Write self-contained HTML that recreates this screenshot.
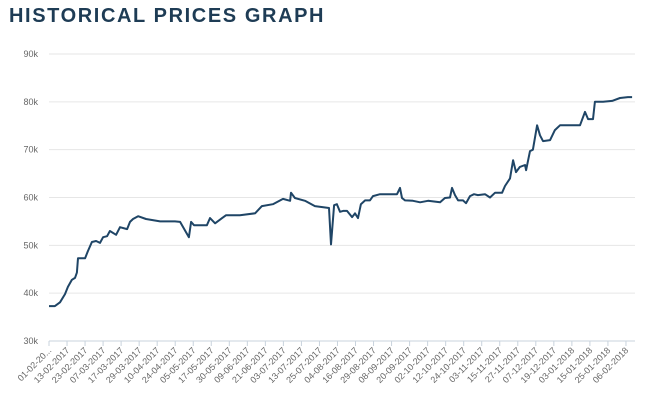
<!DOCTYPE html>
<html><head><meta charset="utf-8"><style>
body{margin:0;background:#fff;width:650px;height:405px;overflow:hidden;font-family:"Liberation Sans",sans-serif}
h1{position:absolute;left:9px;top:5px;margin:0;font-size:20px;font-weight:bold;letter-spacing:1.6px;color:#1e3c55}
svg{position:absolute;left:0;top:0}
</style></head><body>
<h1>HISTORICAL PRICES GRAPH</h1>
<svg id="c" width="650" height="405"></svg>
<script>
const tickLabels=["01-02-20...","13-02-2017","23-02-2017","07-03-2017","17-03-2017","29-03-2017","10-04-2017","24-04-2017","05-05-2017","17-05-2017","30-05-2017","09-06-2017","21-06-2017","03-07-2017","13-07-2017","25-07-2017","04-08-2017","16-08-2017","29-08-2017","08-09-2017","20-09-2017","02-10-2017","12-10-2017","24-10-2017","03-11-2017","15-11-2017","27-11-2017","07-12-2017","19-12-2017","03-01-2018","15-01-2018","25-01-2018","06-02-2018"];
const yTicks=[30,40,50,60,70,80,90];
const tPos=[0,.33,.61,.89,1.05,1.27,1.44,1.55,1.61,2.0,2.16,2.38,2.61,2.83,3.0,3.22,3.38,3.72,3.94,4.33,4.49,4.66,4.94,5.38,6.16,6.99,7.27,7.76,7.88,8.04,8.76,8.93,9.21,9.6,9.82,10.59,11.43,11.81,12.42,12.98,13.37,13.42,13.64,14.2,14.75,15.53,15.64,15.81,15.97,16.14,16.31,16.53,16.81,16.97,17.14,17.3,17.53,17.8,17.97,18.36,19.3,19.47,19.58,19.75,20.19,20.58,21.02,21.69,21.96,22.24,22.35,22.52,22.69,22.96,23.13,23.35,23.57,23.79,24.18,24.46,24.74,25.13,25.29,25.57,25.74,25.9,26.12,26.4,26.46,26.68,26.84,27.07,27.23,27.4,27.79,28.06,28.34,29.45,29.73,29.9,30.17,30.28,30.73,31.23,31.67,32.11,32.34];
const prices=[37.3,37.3,38.1,39.8,41.3,42.8,43.2,44.3,47.3,47.3,48.8,50.7,50.9,50.5,51.7,51.9,53,52.2,53.8,53.4,54.9,55.5,56.1,55.5,55,55,54.9,51.7,54.9,54.2,54.2,55.7,54.6,55.7,56.3,56.3,56.7,58.2,58.6,59.7,59.3,61,59.9,59.3,58.2,57.8,50.2,58.4,58.6,57,57.2,57.2,55.9,56.7,55.7,58.6,59.4,59.4,60.3,60.7,60.7,62,59.9,59.4,59.3,59,59.3,59,59.9,60,62,60.5,59.4,59.4,58.8,60.3,60.7,60.5,60.7,60,61,61,62.4,64,67.8,65.3,66.4,66.8,65.7,69.7,70,75.1,73,71.8,72,74.1,75.1,75.1,77.9,76.4,76.4,80,80,80.2,80.8,81,81];
const NS="http://www.w3.org/2000/svg",svg=document.getElementById('c');
const x0=49,dx=18.03,xr=635;
const X=u=>x0+u*dx, Y=v=>341-(v-30)*(287/60);
function mk(t,a){const e=document.createElementNS(NS,t);for(const k in a)e.setAttribute(k,a[k]);svg.appendChild(e);return e;}
yTicks.forEach(v=>{
 const g=mk('line',{x1:x0,x2:xr,y1:Y(v),y2:Y(v),stroke:v==30?'#c9d3dd':'#e6e6e6','stroke-width':1});
 
 
 const t=mk('text',{x:38,y:Y(v)+3,'text-anchor':'end','font-size':9,fill:'#666'});
 t.textContent=v+'k';
 
 
});
tickLabels.forEach((s,i)=>{
 const x=X(i);
 const l=mk('line',{x1:x,x2:x,y1:341,y2:346,stroke:'#c9d3dd'});
 
 
 const t=mk('text',{x:x+3,y:351,'text-anchor':'end','font-size':9,fill:'#666',transform:`rotate(-45 ${x+3} 351)`});
 t.textContent=s;
 
 
});
const d=tPos.map((u,i)=>(i?'L':'M')+X(u).toFixed(1)+' '+Y(prices[i]).toFixed(1)).join('');
const p=mk('path',{d:d,fill:'none',stroke:'#1f4566','stroke-width':2,'stroke-linejoin':'round'});


</script>
</body></html>
